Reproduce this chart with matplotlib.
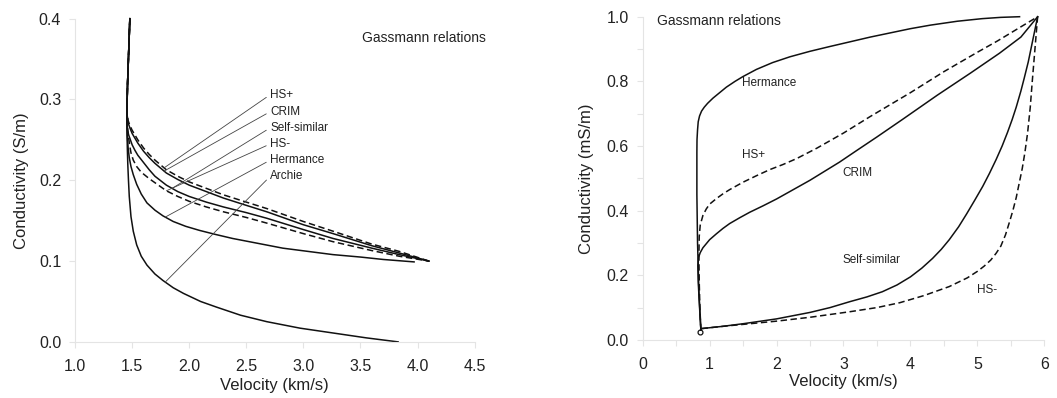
import numpy as np
import matplotlib
matplotlib.use("Agg")
import matplotlib.pyplot as plt

plt.rcParams["font.family"] = ["Liberation Sans", "DejaVu Sans"]

# ---- left panel: conductivity (S/m) vs velocity (km/s)
hsp_v = [1.48, 1.47, 1.46, 1.455, 1.457, 1.465, 1.48, 1.5, 1.525, 1.55, 1.6, 1.65, 1.7, 1.8, 1.9, 2.0,
         2.15, 2.3, 2.5, 2.68, 3.0, 3.26, 3.6, 3.84, 4.1]
hsp_c = [0.40, 0.36, 0.32, 0.29, 0.282, 0.274, 0.268, 0.262, 0.256, 0.25, 0.24, 0.232, 0.225, 0.213, 0.205, 0.198,
         0.19, 0.182, 0.173, 0.165, 0.149, 0.137, 0.121, 0.112, 0.1]
crim_v = [1.48, 1.47, 1.46, 1.455, 1.457, 1.465, 1.48, 1.5, 1.525, 1.55, 1.6, 1.65, 1.7, 1.8, 1.9, 2.0,
          2.15, 2.3, 2.5, 2.68, 3.0, 3.26, 3.6, 3.84, 4.1]
crim_c = [0.40, 0.36, 0.32, 0.29, 0.28, 0.271, 0.265, 0.258, 0.252, 0.246, 0.236, 0.228, 0.221, 0.209, 0.201, 0.194,
          0.186, 0.178, 0.169, 0.161, 0.145, 0.134, 0.119, 0.11, 0.1]
self_v = [1.48, 1.47, 1.46, 1.455, 1.455, 1.46, 1.47, 1.485, 1.5, 1.525, 1.55, 1.6, 1.65, 1.7, 1.8, 1.9, 2.0,
          2.15, 2.3, 2.5, 2.68, 3.0, 3.26, 3.6, 3.84, 4.1]
self_c = [0.40, 0.36, 0.32, 0.29, 0.27, 0.262, 0.256, 0.25, 0.244, 0.237, 0.231, 0.222, 0.213, 0.205, 0.194, 0.186, 0.18,
          0.173, 0.167, 0.16, 0.153, 0.139, 0.128, 0.116, 0.108, 0.1]
hsm_v = [1.48, 1.47, 1.46, 1.455, 1.455, 1.46, 1.47, 1.48, 1.49, 1.51, 1.54, 1.58, 1.65, 1.7, 1.8, 1.9, 2.0,
         2.15, 2.3, 2.5, 2.68, 3.0, 3.26, 3.6, 3.84, 4.1]
hsm_c = [0.40, 0.36, 0.32, 0.29, 0.275, 0.265, 0.252, 0.242, 0.234, 0.225, 0.217, 0.21, 0.202, 0.197, 0.187, 0.18, 0.174,
         0.167, 0.161, 0.154, 0.147, 0.134, 0.124, 0.113, 0.106, 0.1]
herm_v = [1.48, 1.47, 1.46, 1.455, 1.455, 1.458, 1.465, 1.475, 1.49, 1.51, 1.54, 1.58, 1.63, 1.7, 1.77, 1.86, 1.97,
          2.09, 2.23, 2.38, 2.6, 2.82, 3.04, 3.26, 3.5, 3.7, 3.97]
herm_c = [0.40, 0.36, 0.32, 0.29, 0.27, 0.255, 0.24, 0.228, 0.217, 0.207, 0.195, 0.183, 0.172, 0.163, 0.156, 0.149, 0.143,
          0.138, 0.133, 0.128, 0.122, 0.116, 0.112, 0.108, 0.105, 0.102, 0.099]
arch_v = [1.48, 1.47, 1.46, 1.455, 1.455, 1.458, 1.462, 1.468, 1.475, 1.49, 1.51, 1.54, 1.58, 1.63, 1.7, 1.77, 1.86,
          1.95, 2.1, 2.24, 2.45, 2.68, 2.97, 3.26, 3.55, 3.83]
arch_c = [0.40, 0.36, 0.32, 0.29, 0.26, 0.24, 0.22, 0.2, 0.18, 0.155, 0.137, 0.12, 0.106, 0.095, 0.084, 0.076, 0.067,
          0.06, 0.05, 0.043, 0.033, 0.025, 0.017, 0.011, 0.005, 0.0]

left_names = ["HS+", "CRIM", "Self-similar", "HS-", "Hermance", "Archie"]
left_curves = [(hsp_v, hsp_c), (crim_v, crim_c), (self_v, self_c),
               (hsm_v, hsm_c), (herm_v, herm_c), (arch_v, arch_c)]
left_dashed = [True, False, False, True, False, False]
leader_x = [1.78, 1.78, 1.85, 1.8, 1.79, 1.79]
label_y = [0.306, 0.285, 0.265, 0.245, 0.225, 0.205]

# ---- right panel: conductivity (mS/m) vs velocity (km/s)
r_herm_v = [0.87, 0.84, 0.82, 0.81, 0.81, 0.812, 0.82, 0.83, 0.85, 0.88, 0.92, 0.97, 1.05, 1.15, 1.25, 1.38, 1.5,
            1.7, 1.94, 2.2, 2.5, 2.8, 3.09, 3.4, 3.7, 4.0, 4.3, 4.7, 5.07, 5.35, 5.63]
r_herm_c = [0.03, 0.15, 0.3, 0.45, 0.58, 0.62, 0.65, 0.675, 0.693, 0.708, 0.72, 0.732, 0.748, 0.765, 0.782, 0.8, 0.815,
            0.837, 0.858, 0.876, 0.893, 0.908, 0.922, 0.937, 0.95, 0.963, 0.974, 0.986, 0.994, 0.998, 1.0]
r_hsp_v = [0.87, 0.855, 0.845, 0.84, 0.845, 0.86, 0.9, 0.95, 1.0, 1.1, 1.2, 1.3, 1.5, 1.7, 1.9, 2.1, 2.3, 2.6,
           3.0, 3.39, 4.0, 4.5, 5.0, 5.3, 5.58, 5.9]
r_hsp_c = [0.03, 0.1, 0.18, 0.26, 0.32, 0.355, 0.385, 0.405, 0.42, 0.437, 0.452, 0.465, 0.488, 0.508, 0.527, 0.543,
           0.561, 0.593, 0.64, 0.69, 0.765, 0.83, 0.89, 0.925, 0.96, 1.0]
r_crim_v = [0.87, 0.85, 0.83, 0.825, 0.835, 0.86, 0.9, 1.0, 1.1, 1.2, 1.3, 1.45, 1.6, 1.8, 2.0, 2.19, 2.5, 2.94,
            3.19, 3.5, 3.88, 4.4, 4.9, 5.33, 5.65, 5.9]
r_crim_c = [0.03, 0.1, 0.18, 0.23, 0.255, 0.27, 0.285, 0.31, 0.328, 0.345, 0.36, 0.378, 0.395, 0.415, 0.436, 0.458,
            0.494, 0.55, 0.585, 0.628, 0.682, 0.757, 0.826, 0.887, 0.937, 1.0]
r_self_v = [0.88, 1.2, 1.5, 2.0, 2.5, 2.8, 3.09, 3.35, 3.58, 3.8, 4.0, 4.17, 4.33, 4.46, 4.58, 4.72, 4.84, 4.96,
            5.08, 5.18, 5.28, 5.37, 5.45, 5.52, 5.58, 5.65, 5.7, 5.76, 5.8, 5.85, 5.9]
r_self_c = [0.035, 0.042, 0.05, 0.065, 0.085, 0.1, 0.118, 0.133, 0.149, 0.17, 0.195, 0.222, 0.252, 0.28, 0.31, 0.35,
            0.39, 0.432, 0.475, 0.515, 0.558, 0.6, 0.642, 0.682, 0.72, 0.77, 0.81, 0.86, 0.9, 0.95, 1.0]
r_hsm_v = [0.88, 1.2, 1.5, 2.0, 2.5, 3.09, 3.5, 3.84, 4.2, 4.58, 4.85, 5.0, 5.1, 5.2, 5.28, 5.35, 5.42, 5.48,
           5.53, 5.58, 5.63, 5.67, 5.71, 5.75, 5.79, 5.82, 5.86, 5.9]
r_hsm_c = [0.035, 0.042, 0.048, 0.058, 0.07, 0.087, 0.1, 0.115, 0.137, 0.165, 0.192, 0.212, 0.228, 0.247, 0.268,
           0.29, 0.325, 0.365, 0.4, 0.44, 0.49, 0.53, 0.58, 0.64, 0.72, 0.8, 0.9, 1.0]
r_start_v = [0.86]
r_start_c = [0.025]

right_names = ["Hermance", "HS+", "CRIM", "Self-similar", "HS-"]
right_curves = [(r_herm_v, r_herm_c), (r_hsp_v, r_hsp_c), (r_crim_v, r_crim_c),
                (r_self_v, r_self_c), (r_hsm_v, r_hsm_c)]
right_dashed = [False, True, False, False, True]
right_label_xy = [(1.49, 0.796), (1.49, 0.573), (2.99, 0.517), (2.99, 0.248), (5.0, 0.155)]

LINE = "#111111"
TXT = "#222222"
FAINT = "#e4e4e4"
DASH = (0, (4.2, 2.3))


def style_axes(ax):
    for side in ["top", "right"]:
        ax.spines[side].set_visible(False)
    for side in ["left", "bottom"]:
        ax.spines[side].set_color(FAINT)
        ax.spines[side].set_linewidth(0.8)
    ax.tick_params(which="both", direction="out", color=FAINT, width=0.8,
                   labelsize=11.5, labelcolor=TXT, length=4)
    ax.tick_params(axis="x", pad=8)
    ax.tick_params(axis="y", pad=6)


fig = plt.figure(figsize=(10.57, 3.98), dpi=100)

# left
ax1 = fig.add_axes([0.071, 0.141, 0.378, 0.812])
for (v, c), dashed in zip(left_curves, left_dashed):
    ax1.plot(v, c, color=LINE, lw=1.1, ls=DASH if dashed else "-", clip_on=False)

for name, (v, c), lx, ly in zip(left_names, left_curves, leader_x, label_y):
    v = np.asarray(v)
    c = np.asarray(c)
    tail = v >= 1.5
    ty = np.interp(lx, v[tail], c[tail])
    ax1.annotate(name, xy=(lx, ty), xytext=(2.71, ly), fontsize=8.5, color=TXT,
                 ha="left", va="center",
                 arrowprops=dict(arrowstyle="-", color="#444444", lw=0.6,
                                 relpos=(0, 0.5), shrinkA=1, shrinkB=0))

ax1.text(3.51, 0.376, "Gassmann relations", fontsize=10, color=TXT, ha="left", va="center")
ax1.set_xlim(1.0, 4.5)
ax1.set_ylim(0.0, 0.4)
ax1.set_xticks(np.arange(1.0, 4.51, 0.5))
ax1.set_yticks(np.arange(0.0, 0.41, 0.1))
ax1.set_xticklabels([f"{t:.1f}" for t in np.arange(1.0, 4.51, 0.5)])
ax1.set_yticklabels([f"{t:.1f}" for t in np.arange(0.0, 0.41, 0.1)])
style_axes(ax1)
ax1.set_xlabel("Velocity (km/s)", fontsize=12, color=TXT, labelpad=3)
ax1.set_ylabel("Conductivity (S/m)", fontsize=12, color=TXT, labelpad=7)

# right
ax2 = fig.add_axes([0.608, 0.146, 0.380, 0.812])
for (v, c), dashed in zip(right_curves, right_dashed):
    ax2.plot(v, c, color=LINE, lw=1.1, ls=DASH if dashed else "-", clip_on=False)
ax2.plot(r_start_v, r_start_c, marker="o", ms=3.5, mfc="none", mec=LINE, mew=0.9,
         ls="none", clip_on=False)
for name, (lx, ly) in zip(right_names, right_label_xy):
    ax2.text(lx, ly, name, fontsize=8.5, color=TXT, ha="left", va="center")
ax2.text(0.21, 0.988, "Gassmann relations", fontsize=10, color=TXT, ha="left", va="center")
ax2.set_xlim(0, 6)
ax2.set_ylim(0.0, 1.0)
ax2.set_xticks(range(0, 7))
ax2.set_xticks(np.arange(0.5, 6, 1.0), minor=True)
ax2.set_yticks(np.arange(0.0, 1.01, 0.2))
ax2.set_yticks(np.arange(0.1, 1.0, 0.2), minor=True)
ax2.set_yticklabels([f"{t:.1f}" for t in np.arange(0.0, 1.01, 0.2)])
style_axes(ax2)
ax2.set_xlabel("Velocity (km/s)", fontsize=12, color=TXT, labelpad=2)
ax2.set_ylabel("Conductivity (mS/m)", fontsize=12, color=TXT, labelpad=9)

fig.savefig("out.png", dpi=100)
